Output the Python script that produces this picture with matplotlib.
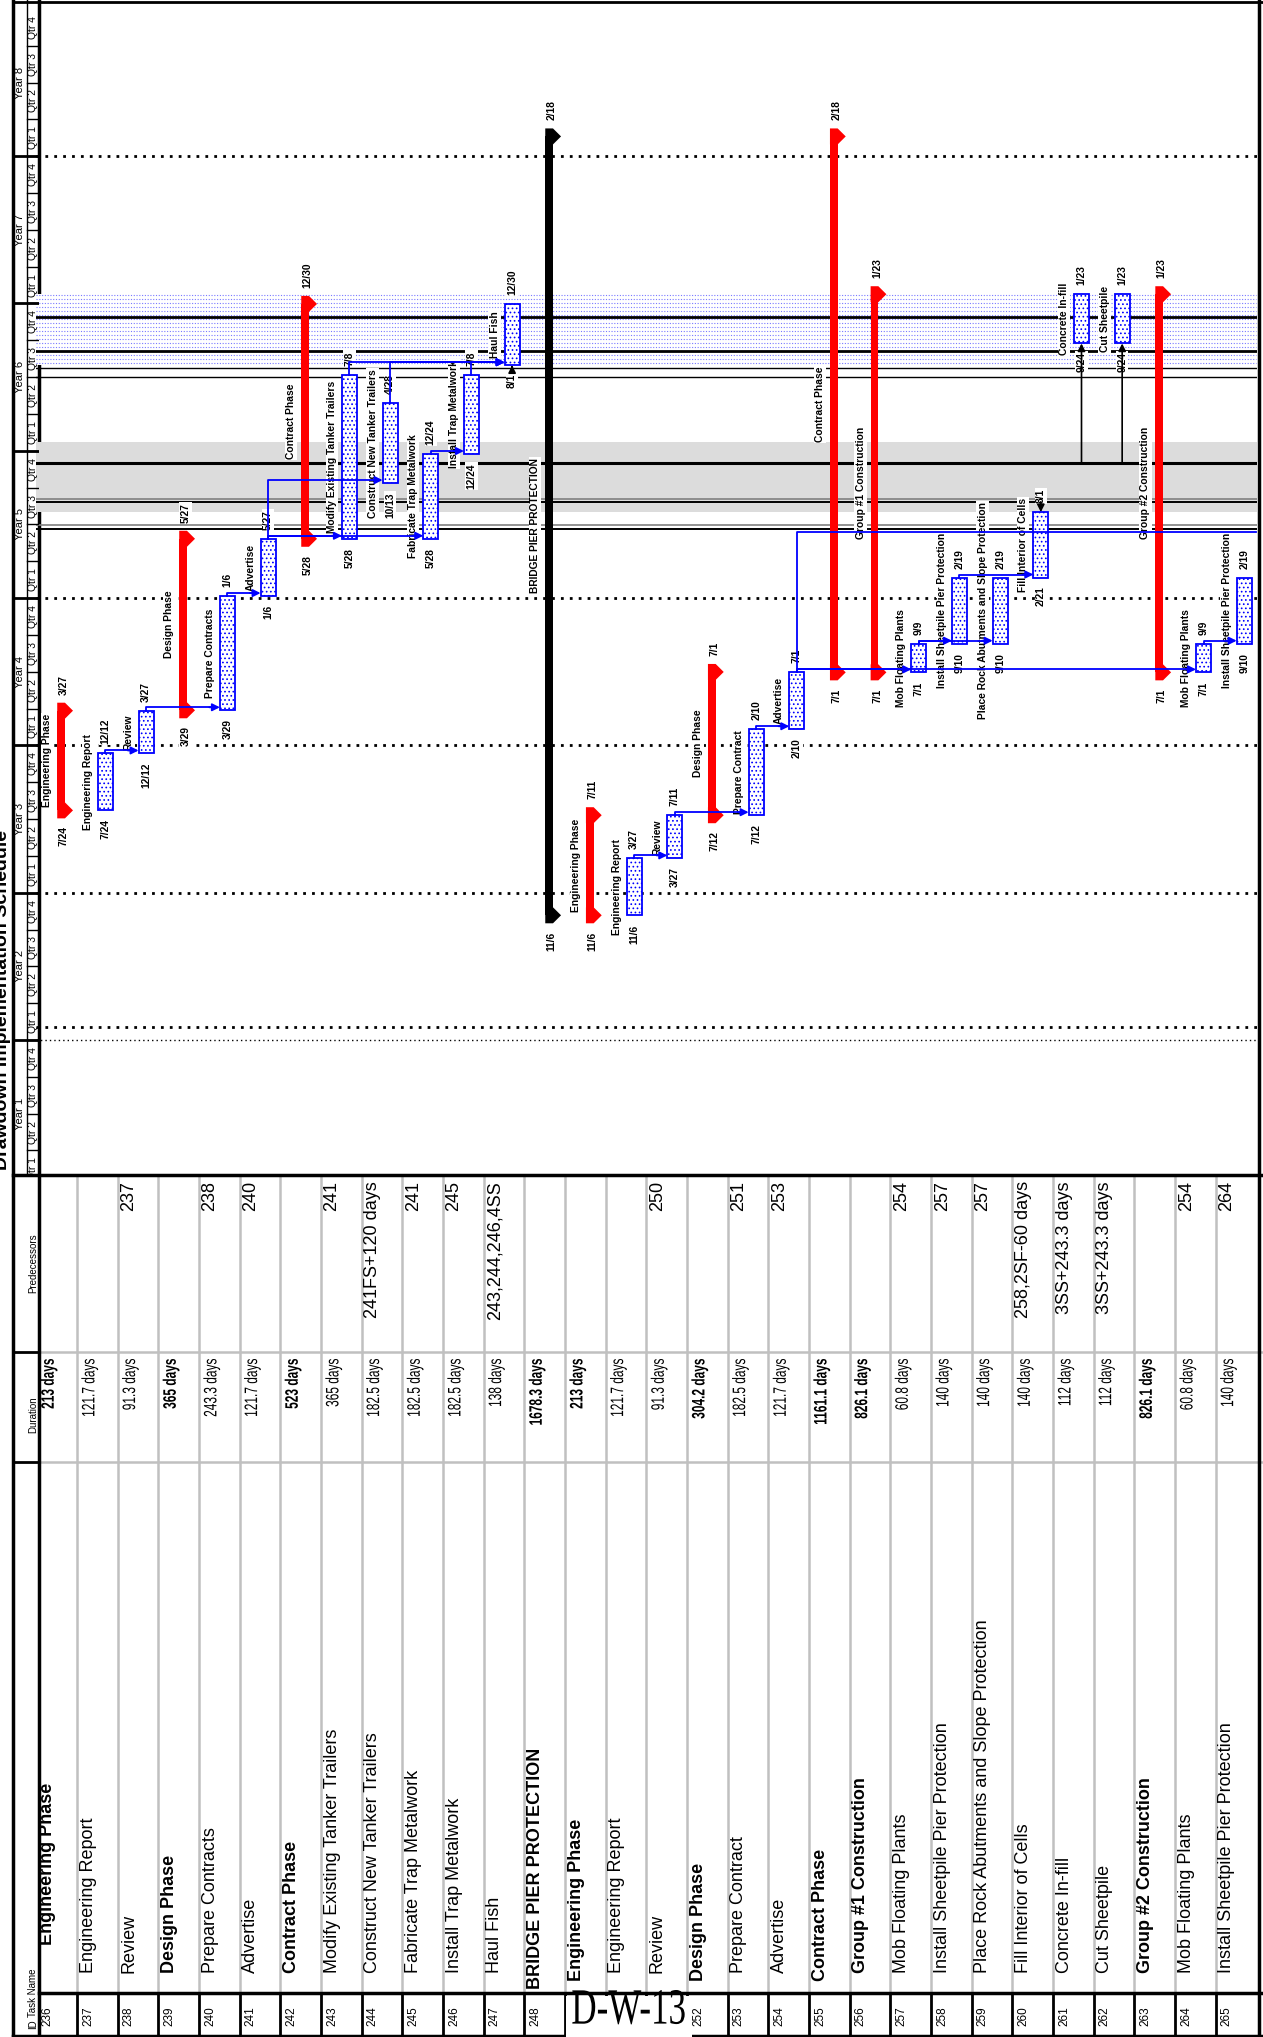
import matplotlib
matplotlib.use("Agg")
import numpy as np
import matplotlib.pyplot as plt
from matplotlib.patches import Polygon, Rectangle, PathPatch
from matplotlib.textpath import TextPath
from matplotlib.transforms import Affine2D
from matplotlib import font_manager as fm

# ---------------- schedule data ----------------
task_ids = list(range(236, 266))
task_names = ["Engineering Phase", "Engineering Report", "Review", "Design Phase", "Prepare Contracts",
              "Advertise", "Contract Phase", "Modify Existing Tanker Trailers", "Construct New Tanker Trailers",
              "Fabricate Trap Metalwork", "Install Trap Metalwork", "Haul Fish", "BRIDGE PIER PROTECTION",
              "Engineering Phase", "Engineering Report", "Review", "Design Phase", "Prepare Contract",
              "Advertise", "Contract Phase", "Group #1 Construction", "Mob Floating Plants",
              "Install Sheetpile Pier Protection", "Place Rock Abutments and Slope Protection",
              "Fill Interior of Cells", "Concrete In-fill", "Cut Sheetpile", "Group #2 Construction",
              "Mob Floating Plants", "Install Sheetpile Pier Protection"]
durations = ["213 days", "121.7 days", "91.3 days", "365 days", "243.3 days", "121.7 days", "523 days",
             "365 days", "182.5 days", "182.5 days", "182.5 days", "138 days", "1678.3 days", "213 days",
             "121.7 days", "91.3 days", "304.2 days", "182.5 days", "121.7 days", "1161.1 days",
             "826.1 days", "60.8 days", "140 days", "140 days", "140 days", "112 days", "112 days",
             "826.1 days", "60.8 days", "140 days"]
predecessors = ["", "", "237", "", "238", "240", "", "241", "241FS+120 days", "241", "245",
                "243,244,246,4SS", "", "", "", "250", "", "251", "253", "", "", "254", "257", "257",
                "258,2SF-60 days", "3SS+243.3 days", "3SS+243.3 days", "", "254", "264"]
bar_type = ["sum", "task", "task", "sum", "task", "task", "sum", "task", "task", "task", "task", "task",
            "top", "sum", "task", "task", "sum", "task", "task", "sum", "sum", "task", "task", "task",
            "task", "task", "task", "sum", "task", "task"]
# distance (px) of each task name from the ID column
name_indent = [48, 20, 20, 20, 20, 20, 20, 20, 20, 20, 20, 20, 4, 12, 20, 20, 12, 20, 20, 12, 20, 20, 20,
               20, 20, 20, 20, 20, 20, 20]
start_date = ["7/24", "7/24", "12/12", "3/29", "3/29", "1/6", "5/28", "5/28", "10/13", "5/28", "12/24",
              "8/1", "11/6", "11/6", "11/6", "3/27", "7/12", "7/12", "2/10", "7/1", "7/1", "7/1", "9/10",
              "9/10", "2/21", "9/24", "9/24", "7/1", "7/1", "9/10"]
start_year = [3, 3, 3, 4, 4, 5, 5, 5, 5, 5, 5, 6, 2, 2, 2, 3, 3, 3, 4, 4, 4, 4, 4, 4, 5, 6, 6, 4, 4, 4]
finish_date = ["3/27", "12/12", "3/27", "5/27", "1/6", "5/27", "12/30", "7/8", "4/28", "12/24", "7/8",
               "12/30", "2/18", "7/11", "3/27", "7/11", "7/1", "2/10", "7/1", "2/18", "1/23", "9/9",
               "2/19", "2/19", "8/1", "1/23", "1/23", "1/23", "9/9", "2/19"]
finish_year = [4, 3, 4, 5, 5, 5, 6, 6, 6, 5, 6, 6, 8, 3, 3, 3, 4, 4, 4, 8, 7, 4, 5, 5, 5, 7, 7, 7, 4, 5]
hidden_ids = [249, 250, 251]      # covered by the page label

# finish-to-start links (row index pred -> row index succ)
links = [(1, 2), (2, 4), (4, 5), (5, 7), (5, 8), (5, 9), (9, 10), (7, 11), (8, 11), (10, 11),
         (14, 15), (15, 17), (17, 18), (18, 21), (18, 28), (21, 22), (21, 23), (22, 24), (28, 29)]
offpage_link = (18, 4.45)          # Advertise -> task beyond the page
# links coming from tasks outside the page (years from start)
rail_t = [5.910, 5.677, 5.560, 5.503, 4.915, 4.671, 4.654, 4.496, 4.467]
rail_lw = [2.0, 2.0, 1.0, 1.0, 2.2, 1.2, 1.4, 1.2, 1.4]
rail_col = ["black", "black", "black", "black", "black", "#808080", "black", "#808080", "black"]
rail_arrows = [(24, 4.654, "finish"), (25, 4.915, "start"), (26, 4.915, "start"), (11, 5.560, "start")]
grid_t = [1.0, 1.09, 2.0, 3.0, 4.0, 7.0]
grid_lw = [1.0, 2.0, 2.0, 2.0, 2.0, 2.0]
gray_band = (4.583, 5.062)
blue_band = (5.583, 6.062)
years = [1, 2, 3, 4, 5, 6, 7, 8]
quarters = ["Qtr 1", "Qtr 2", "Qtr 3", "Qtr 4"]

# ---------------- layout (pixels) ----------------
W, H = 1263, 2037
LEFT, HDR_R = 12.7, 39.3
ROW0, ROW_W = 36.4, 40.67
N = len(task_ids)
TABLE_TOP, PRED_END, DUR_END, TASK_END = 1175, 1352, 1462, 1993
Y0_PX, YEAR_PX = 1187.3, 147.3
t_bot = (Y0_PX - TABLE_TOP) / YEAR_PX
t_top = Y0_PX / YEAR_PX

SANS = ["Liberation Sans", "DejaVu Sans"]
plt.rcParams["font.family"] = SANS
plt.rcParams["hatch.linewidth"] = 0.7


def font_ok(name):
    try:
        fm.findfont(fm.FontProperties(family=name), fallback_to_default=False)
        return True
    except Exception:
        return False


if font_ok("Liberation Sans Narrow"):
    TFAM, TSCALE = ["Liberation Sans Narrow", "DejaVu Sans"], 1 / 0.82
else:
    TFAM, TSCALE = SANS, 1.0

CUM = [0, 31, 59, 90, 120, 151, 181, 212, 243, 273, 304, 334]


def to_t(md, yr, finish=False):
    m, d = map(int, md.split("/"))
    return (yr - 1) + (CUM[m - 1] + d - (0 if finish else 1)) / 365.0


def fig_rect(x0, y0, x1, y1):
    return [x0 / W, 1 - y1 / H, (x1 - x0) / W, (y1 - y0) / H]


fig = plt.figure(figsize=(W / 100, H / 100), dpi=100)
page = fig.add_axes([0, 0, 1, 1])
page.set_xlim(0, W)
page.set_ylim(H, 0)
page.axis("off")


def squeezed_vtext(x_mid, y_top, s, em_px, squeeze, weight="normal"):
    # upward-reading text whose end sits at y_top, compressed along the reading direction
    if not s:
        return
    tp = TextPath((0, 0), s, size=em_px, prop=fm.FontProperties(family=TFAM, weight=weight))
    ext = tp.get_extents()
    v_mid = em_px * 0.35
    tr = Affine2D.from_values(0, -squeeze, -1, 0, x_mid + v_mid, y_top + ext.x1 * squeeze)
    page.add_patch(PathPatch(tr.transform_path(tp), fc="black", ec="none", lw=0))


gantt = fig.add_axes(fig_rect(ROW0, 0, ROW0 + N * ROW_W, TABLE_TOP))
gantt.set_xlim(-0.5, N - 0.5)
gantt.set_ylim(t_bot, t_top)
gantt.axis("off")

hdr = fig.add_axes(fig_rect(LEFT, 0, HDR_R, TABLE_TOP))
hdr.set_xlim(0, 1)
hdr.set_ylim(t_bot, t_top)
hdr.axis("off")

# ---------------- background of gantt ----------------
gantt.axhspan(*gray_band, color="#dcdcdc", lw=0, zorder=1)
gantt.axhspan(*blue_band, color="white", lw=0, zorder=1)
gantt.hlines(np.arange(blue_band[0] + 0.01, blue_band[1], 4 / YEAR_PX), -0.5, N - 0.5,
             colors="#7a7aff", linestyles=(0, (1, 1.5)), lw=0.8, zorder=1.2)
for t, lw in zip(grid_t, grid_lw):
    gantt.axhline(t, color="black", lw=lw, ls=(0, (1, 2.2)), zorder=1.5)
for t, lw, c in zip(rail_t, rail_lw, rail_col):
    gantt.axhline(t, color=c, lw=lw, zorder=2)

# ---------------- bars ----------------
BAR_L, TASK_W, SUM_W, CAP_TIP = 0.012, 0.37, 0.19, 0.40
CAP_H = 8 / YEAR_PX
starts = [to_t(d, y) for d, y in zip(start_date, start_year)]
finishes = [to_t(d, y, True) for d, y in zip(finish_date, finish_year)]
lbl_font = dict(fontsize=7.4, fontweight="bold", rotation=90, ha="center")
bg = dict(boxstyle="square,pad=0.12", fc="white", ec="none")

for i in range(N):
    s, f = starts[i], finishes[i]
    if bar_type[i] == "task":
        gantt.bar(i + BAR_L, f - s, bottom=s, width=TASK_W, align="edge", facecolor="white",
                  edgecolor="#0000ff", hatch="....", lw=1.3, zorder=4)
        xc, gap = i + BAR_L + TASK_W / 2, 9 / YEAR_PX
    else:
        col = "black" if bar_type[i] == "top" else "#ff0000"
        gantt.bar(i + BAR_L, f - s, bottom=s, width=SUM_W, align="edge", color=col, lw=0, zorder=4)
        for d in (s, f):
            gantt.add_patch(Polygon([(i + BAR_L, d - CAP_H), (i + BAR_L + SUM_W, d - CAP_H),
                                     (i + CAP_TIP, d), (i + BAR_L + SUM_W, d + CAP_H),
                                     (i + BAR_L, d + CAP_H)], closed=True, color=col, lw=0, zorder=4))
        xc, gap = i + 0.17, 16 / YEAR_PX
    gantt.text(i - 0.235, (s + f) / 2, task_names[i], va="center", bbox=bg, zorder=3, **lbl_font)
    gantt.text(xc, s - gap, start_date[i], va="top", bbox=bg, zorder=3, **lbl_font)
    gantt.text(xc, f + gap, finish_date[i], va="bottom", bbox=bg, zorder=3, **lbl_font)

# ---------------- links ----------------
EPS = 3 / YEAR_PX
arrow = dict(arrowstyle="-|>", color="#0000ff", lw=1.3, shrinkA=0, shrinkB=0, mutation_scale=11)
for p, q in links:
    xp = p + BAR_L + TASK_W / 2
    ty = starts[q] + EPS
    gantt.plot([xp, xp, q - 0.2], [finishes[p], ty, ty], color="#0000ff", lw=1.3, zorder=5)
    gantt.annotate("", xy=(q + BAR_L, ty), xytext=(q - 0.25, ty), arrowprops=arrow, zorder=5)
p, t_off = offpage_link
xp = p + BAR_L + TASK_W / 2
gantt.plot([xp, xp, N - 0.5], [finishes[p], t_off, t_off], color="#0000ff", lw=1.3, zorder=5)

black_arrow = dict(arrowstyle="-|>", color="black", lw=1.2, shrinkA=0, shrinkB=0, mutation_scale=11)
for i, t_line, end in rail_arrows:
    xc = i + BAR_L + TASK_W / 2
    target = starts[i] if end == "start" else finishes[i]
    gantt.annotate("", xy=(xc, target), xytext=(xc, t_line), arrowprops=black_arrow, zorder=5)

# ---------------- timescale header ----------------
YS = 0.53
for k in years:
    hdr.text(YS / 2, k - 0.5, f"Year {k}", rotation=90, ha="center", va="center", fontsize=8,
             clip_on=True)
    hdr.axhline(k - 1, color="black", lw=2)
    for q, ql in enumerate(quarters):
        hdr.text((YS + 1) / 2, k - 1 + (q + 0.5) / 4, ql, rotation=90, ha="center", va="center",
                 fontsize=7.4, clip_on=True)
        hdr.plot([YS, 1], [k - 1 + q / 4] * 2, color="black", lw=1)
hdr.axvline(YS, color="black", lw=1)

# ---------------- table ----------------
NAME_FS = 13 * TSCALE
EM_PX = NAME_FS * 100 / 72
for i in range(N):
    x0 = ROW0 + i * ROW_W
    xc = x0 + 11
    bold = "bold" if bar_type[i] != "task" else "normal"
    page.text(xc, TASK_END - name_indent[i], task_names[i], rotation=90, ha="center", va="bottom",
              fontsize=NAME_FS, fontweight=bold, family=TFAM)
    squeezed_vtext(xc, PRED_END + 7, durations[i], EM_PX, 0.66, bold)
    page.text(xc, TABLE_TOP + 6, predecessors[i], rotation=90, ha="center", va="top",
              fontsize=NAME_FS, family=TFAM)
    if task_ids[i] not in hidden_ids:
        page.text(xc, H - 11, str(task_ids[i]), rotation=90, ha="center", va="bottom", fontsize=8.5)
    if i > 0:
        page.plot([x0, x0], [TABLE_TOP, TASK_END], color="#c0c0c0", lw=1.8, zorder=1)
        page.plot([x0, x0], [TASK_END, H], color="black", lw=2, zorder=1)

hx = 33
page.text(hx, H - 8, "ID", rotation=90, ha="center", va="bottom", fontsize=7, family=TFAM)
page.text(hx, H - 20, "Task Name", rotation=90, ha="center", va="bottom", fontsize=7, family=TFAM)
page.text(hx, (PRED_END + DUR_END) / 2 + 8, "Duration", rotation=90, ha="center", va="center",
          fontsize=7, family=TFAM)
page.text(hx, (TABLE_TOP + PRED_END) / 2, "Predecessors", rotation=90, ha="center", va="center",
          fontsize=7, family=TFAM)

for y in (PRED_END, DUR_END):
    page.plot([HDR_R, W], [y, y], color="#c0c0c0", lw=1.8)
    page.plot([LEFT, HDR_R], [y, y], color="black", lw=2)
page.plot([HDR_R, W], [TASK_END, TASK_END], color="black", lw=2.5)
page.plot([LEFT, W], [TABLE_TOP, TABLE_TOP], color="black", lw=2.5)

# frame
page.plot([LEFT, LEFT], [0, H], color="black", lw=2.5)
page.plot([HDR_R, HDR_R], [0, H], color="black", lw=2.5)
page.plot([1259, 1259], [0, H], color="black", lw=2.5)
page.plot([LEFT, W], [2, 2], color="black", lw=2)
page.plot([LEFT, W], [H - 1, H - 1], color="black", lw=2.5)

# title (cut by the page edge) and page label
page.text(3, 1000, "Drawdown Implementation Schedule", rotation=90, ha="center", va="center",
          fontsize=14, fontweight="bold")
page.add_patch(Rectangle((566, 1996), 126, 45, facecolor="white", edgecolor="none", zorder=6))
lbl_em, lbl_stretch = 35, 1.45
lp = TextPath((0, 0), "D-W-13", size=lbl_em, prop=fm.FontProperties(family=["Liberation Serif", "DejaVu Serif"]))
lx = lp.get_extents()
lt = Affine2D.from_values(1, 0, 0, -lbl_stretch, 628 - lx.x1 / 2, 1990 + 0.662 * lbl_em * lbl_stretch)
page.add_patch(PathPatch(lt.transform_path(lp), fc="black", ec="none", lw=0, zorder=7))

fig.savefig("out.png", dpi=100)
